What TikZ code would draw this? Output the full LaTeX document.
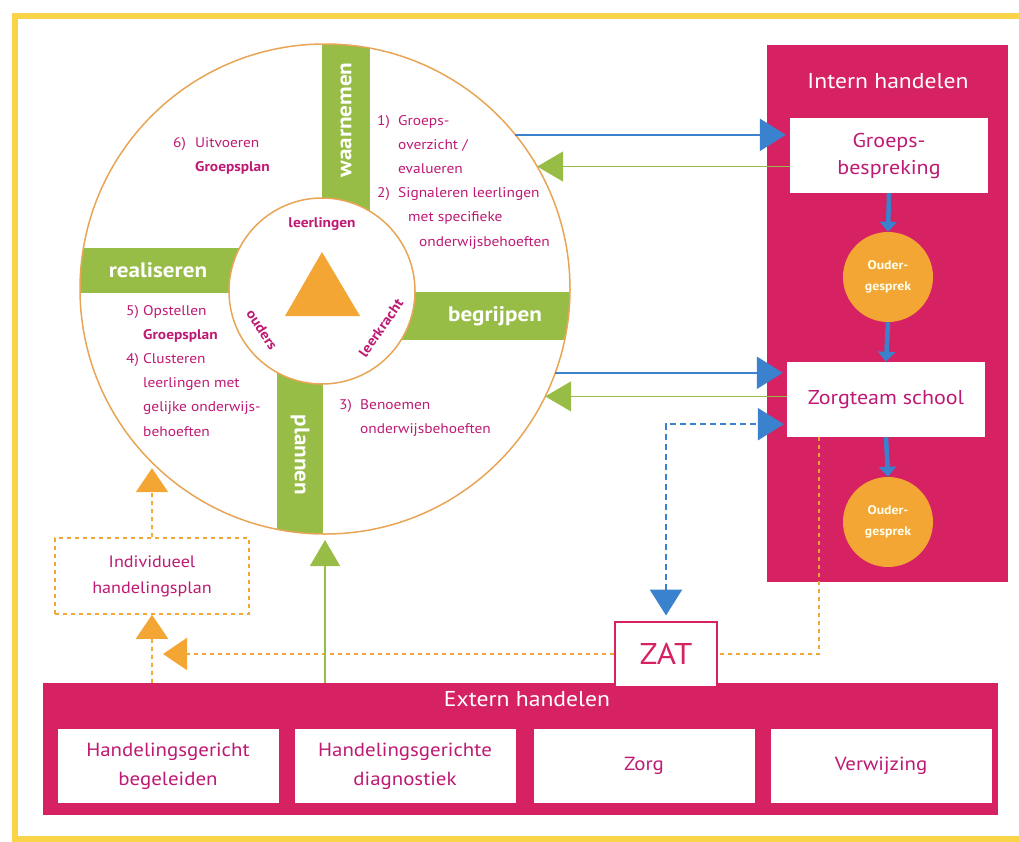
\documentclass[tikz,border=0pt]{standalone}
\usepackage{fontspec}
\setmainfont[FakeStretch=1.1]{PT Sans}
\usetikzlibrary{arrows.meta, positioning, calc}

\definecolor{mag}{RGB}{214,33,98}
\definecolor{magtext}{RGB}{190,25,115}
\definecolor{barg}{RGB}{151,189,70}
\definecolor{oranje}{RGB}{243,166,52}
\definecolor{blauw}{RGB}{58,130,205}
\definecolor{geel}{RGB}{250,212,72}
\definecolor{ring}{RGB}{232,165,85}

\begin{document}
\begin{tikzpicture}[
  x=1pt, y=-1pt,
  box/.style    = {fill=white, inner sep=0pt, minimum width=221pt, minimum height=74pt, align=center, text=magtext, font=\fontsize{19}{29}\selectfont},
  ibox/.style   = {fill=white, inner sep=0pt, minimum width=198pt, minimum height=75pt, align=center, text=magtext, font=\fontsize{20}{27}\selectfont},
  title/.style  = {text=white, font=\fontsize{21.5}{24}\selectfont},
  bartxt/.style = {text=white, font=\fontsize{21}{24}\selectfont\bfseries},
  hubtxt/.style = {text=magtext, font=\fontsize{14}{16}\selectfont\bfseries},
  steps/.style  = {text=magtext, inner sep=0pt, anchor=north west, align=left, font=\fontsize{14}{24.2}\selectfont},
  ouder/.style  = {circle, fill=oranje, minimum size=90pt, inner sep=0pt, align=center, text=white!92!yellow, font=\fontsize{12.5}{21}\selectfont\bfseries},
  barrow/.style = {blauw, line width=2.5pt, -{Triangle[length=26pt, width=32pt]}},
  garrow/.style = {barg, line width=1.5pt, -{Triangle[length=26pt, width=30pt]}},
  darrow/.style = {blauw, line width=4.5pt, -{Triangle[length=10pt, width=17pt]}},
  odash/.style  = {oranje, line width=2pt, dash pattern=on 4pt off 4pt},
  otip/.style   = {-{Triangle[length=24pt, width=32pt]}}
]
\useasboundingbox (0,0) rectangle (1019,841);

% yellow frame
\draw[geel, line width=6pt] (1019,16) -- (15,16) -- (15,839) -- (1019,839);

% the wheel
\begin{scope}
  \clip (325,289) circle [radius=245pt];
  \fill[barg] (322,0) rectangle (370,291);
  \fill[barg] (277,291) rectangle (323,600);
  \fill[barg] (0,248) rectangle (323,293);
  \fill[barg] (322,292) rectangle (700,340);
\end{scope}
\node[circle, draw=ring, line width=1.5pt, minimum size=490pt, inner sep=0pt, outer sep=0pt] (wheel) at (325,289) {};
\node[circle, fill=white, draw=ring, line width=1.5pt, minimum size=186pt, inner sep=0pt] (hub) at (322,291) {};
\fill[oranje] (322,252) -- (360,316) -- (285,316) -- cycle;

\node[hubtxt] (lln) at (322,224) {leerlingen};
\node[hubtxt, rotate=-57] (ouders) at (262,330) {ouders};
\node[hubtxt, rotate=55] (lk) at (381,328) {leerkracht};

\node[bartxt, rotate=90] (waarnemen) at (346,120) {waarnemen};
\node[bartxt, rotate=-90] (plannen) at (300,455) {plannen};
\node[bartxt] (realiseren) at (158,270) {realiseren};
\node[bartxt] (begrijpen) at (495,316) {begrijpen};

% steps in the quadrants
\node[steps] (s6) at (173,137) {\makebox[22pt][l]{6)}Uitvoeren\\
  \hspace*{22pt}\textbf{Groepsplan}};
\node[steps] (s12) at (377,115) {\makebox[21pt][l]{1)}Groeps-\\
  \hspace*{21pt}overzicht /\\
  \hspace*{21pt}evalueren\\
  \makebox[21pt][l]{2)}Signaleren leerlingen\\
  \hspace*{31pt}met specifieke\\
  \hspace*{42pt}onderwijsbehoeften};
\node[steps] (s54) at (126,305) {\makebox[17pt][l]{5)}Opstellen\\
  \hspace*{17pt}\textbf{Groepsplan}\\
  \makebox[17pt][l]{4)}Clusteren\\
  \hspace*{17pt}leerlingen met\\
  \hspace*{17pt}gelijke onderwijs-\\
  \hspace*{17pt}behoeften};
\node[steps] (s3) at (339,399) {\makebox[21pt][l]{3)}Benoemen\\
  \hspace*{21pt}onderwijsbehoeften};

% intern handelen
\node[fill=mag, minimum width=241pt, minimum height=537pt, inner sep=0pt] (intern) at (887.5,313.5) {};
\node[title] (ititle) at (888,81) {Intern handelen};
\node[ibox] (groepsb) at (889,155.5) {Groeps-\\bespreking};
\node[ouder] (ouder1) at (888,277) {Ouder-\\gesprek};
\node[ibox] (zorg) at (886,399.5) {Zorgteam school};
\node[ouder] (ouder2) at (888,522) {Ouder-\\gesprek};

\draw[darrow] (groepsb.south) -- (ouder1.north);
\draw[darrow] (ouder1.south) -- (zorg.north);
\draw[darrow] (zorg.south) -- (ouder2.north);

% extern handelen
\node[fill=mag, minimum width=955pt, minimum height=132pt, inner sep=0pt] (extern) at (520.5,749) {};
\node[title] (etitle) at (527,699) {Extern handelen};
\node[box] (hgb) at (168,766) {Handelingsgericht\\begeleiden};
\node[box] (hgd) at (405,766) {Handelingsgerichte\\diagnostiek};
\node[box] (zorgb) at (644,766) {Zorg};
\node[box] (verw) at (881,766) {Verwijzing};

\node[draw=mag, line width=2pt, fill=white, minimum width=102pt, minimum height=65pt, inner sep=0pt, text=mag, font=\fontsize{30}{32}\selectfont] (zat) at (666,654) {ZAT};

\node[draw=oranje, line width=1.5pt, dash pattern=on 4pt off 4pt, minimum width=194pt, minimum height=76pt, align=center, text=magtext, font=\fontsize{16.5}{26}\selectfont] (ihp) at (152,576) {Individueel\\handelingsplan};

% connectors
\draw[barrow, shorten >=4pt] (wheel.39.5) -- (wheel.39.5 -| groepsb.west);
\draw[garrow] (wheel.30.9 -| groepsb.west) -- (wheel.30.9);
\draw[barrow, shorten >=4pt] (wheel.-20) -- (wheel.-20 -| zorg.west);
\draw[garrow] (wheel.-26.9 -| zorg.west) -- (wheel.-26.9);
\draw[blauw, line width=2.5pt, dash pattern=on 6pt off 4pt, {Triangle[length=26pt, width=32pt]}-{Triangle[length=26pt, width=32pt]}, shorten <=5pt, shorten >=3pt]
  (zat.north) |- ([yshift=13pt]zorg.south west);

\draw[odash] ([xshift=32pt]zorg.south west) |- (zat.east);
\draw[odash, otip, shorten >=11pt] (zat.west) -- (ihp.south |- zat.west);
\draw[odash, otip] (ihp.south |- extern.north) -- (ihp.south);
\draw[odash, otip] (ihp.north) -- (ihp.north |- wheel.-133);
\draw[garrow, shorten >=6pt] (wheel.south |- extern.north) -- (wheel.south);

\end{tikzpicture}
\end{document}
